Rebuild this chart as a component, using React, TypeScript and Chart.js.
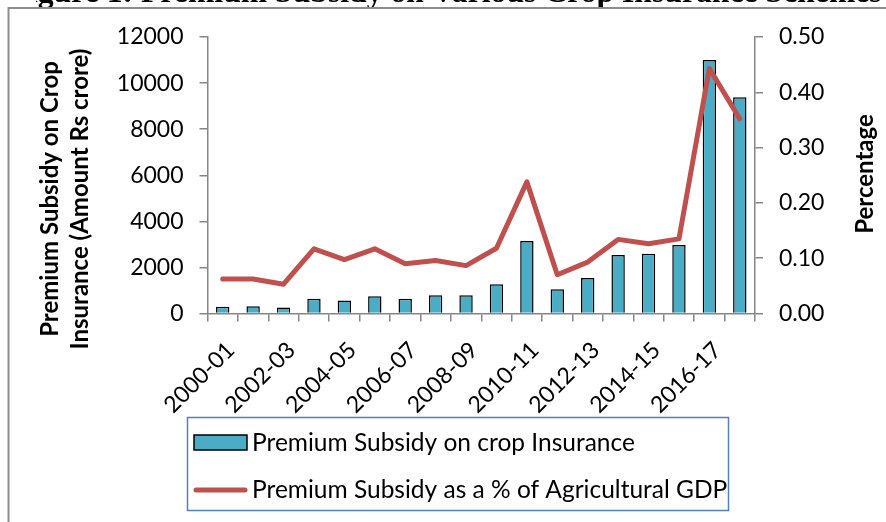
import React, { useEffect, useRef } from "react";
import { Chart, registerables } from "chart.js";

Chart.register(...registerables);

// ---- Data ----
const categories: string[] = [
  "2000-01", "2001-02", "2002-03", "2003-04", "2004-05", "2005-06",
  "2006-07", "2007-08", "2008-09", "2009-10", "2010-11", "2011-12",
  "2012-13", "2013-14", "2014-15", "2015-16", "2016-17", "2017-18",
];

// Premium Subsidy on crop Insurance (Rs crore)
const subsidyValues: number[] = [
  290, 316, 260, 635, 563, 750, 635, 793, 793, 1270, 3150, 1053,
  1542, 2538, 2598, 2971, 11000, 9380,
];

// Premium Subsidy as a % of Agricultural GDP
const gdpShareValues: number[] = [
  0.0625, 0.0625, 0.053, 0.117, 0.0975, 0.117, 0.09, 0.096, 0.0866,
  0.118, 0.238, 0.07, 0.093, 0.134, 0.126, 0.135, 0.443, 0.352,
];

const leftAxisTicks: number[] = [0, 2000, 4000, 6000, 8000, 10000, 12000];
const rightAxisTicks: number[] = [0, 0.1, 0.2, 0.3, 0.4, 0.5];

const barLabel = "Premium Subsidy on crop Insurance";
const lineLabel = "Premium Subsidy as a % of Agricultural GDP";
const leftTitleLines: string[] = ["Premium Subsidy on Crop", "Insurance (Amount Rs crore)"];
const rightTitle = "Percentage";
const figureTitle = "Figure 1: Premium Subsidy on Various Crop Insurance Schemes";

const BAR_COLOR = "#4BACC6";
const LINE_COLOR = "#C0504D";
const AXIS_COLOR = "#868686";
const FONT = "Lato";

const overlayPlugin = {
  id: "overlay",
  afterDraw(chart: any) {
    const ctx: CanvasRenderingContext2D = chart.ctx;
    ctx.save();

    // frame
    ctx.strokeStyle = "#8c8c8c";
    ctx.lineWidth = 2;
    ctx.beginPath();
    ctx.moveTo(8.5, 522);
    ctx.lineTo(8.5, 8);
    ctx.lineTo(886, 8);
    ctx.stroke();

    // clipped figure title (only lower part visible)
    ctx.save();
    ctx.beginPath();
    ctx.rect(36, 0, 850, 7);
    ctx.clip();
    ctx.fillStyle = "#000";
    ctx.font = `bold 31.7px "Liberation Serif"`;
    ctx.textAlign = "left";
    ctx.textBaseline = "alphabetic";
    ctx.fillText(figureTitle, 9.6, 2);
    ctx.restore();

    // left axis title
    ctx.fillStyle = "#000";
    ctx.font = `bold 24px ${FONT}`;
    ctx.textAlign = "center";
    ctx.textBaseline = "middle";
    ctx.save();
    ctx.translate(50, 199);
    ctx.rotate(-Math.PI / 2);
    ctx.fillText(leftTitleLines[0], 0, 0);
    ctx.fillText(leftTitleLines[1], 0, 30);
    ctx.restore();

    // right axis title
    ctx.save();
    ctx.translate(865, 174);
    ctx.rotate(-Math.PI / 2);
    ctx.fillText(rightTitle, 0, 0);
    ctx.restore();

    // legend
    ctx.strokeStyle = "#4F81BD";
    ctx.lineWidth = 1.5;
    ctx.strokeRect(187.5, 417.5, 541, 93);

    ctx.fillStyle = BAR_COLOR;
    ctx.fillRect(194, 435, 53, 15);
    ctx.strokeStyle = "#000";
    ctx.lineWidth = 1.5;
    ctx.strokeRect(194, 435, 53, 15);

    ctx.strokeStyle = LINE_COLOR;
    ctx.lineWidth = 5;
    ctx.lineCap = "round";
    ctx.beginPath();
    ctx.moveTo(196, 490);
    ctx.lineTo(245, 490);
    ctx.stroke();

    ctx.fillStyle = "#000";
    ctx.font = `24.5px ${FONT}`;
    ctx.textAlign = "left";
    ctx.textBaseline = "middle";
    ctx.fillText(barLabel, 252, 443);
    ctx.fillText(lineLabel, 252, 490);

    ctx.restore();
  },
};

export default function App() {
  const canvasRef = useRef<HTMLCanvasElement | null>(null);

  useEffect(() => {
    if (!canvasRef.current) return;
    const tickFont = { family: FONT, size: 23 };
    const chart = new Chart(canvasRef.current, {
      type: "bar",
      data: {
        labels: categories,
        datasets: [
          {
            type: "line",
            label: lineLabel,
            data: gdpShareValues,
            yAxisID: "y1",
            borderColor: LINE_COLOR,
            backgroundColor: LINE_COLOR,
            borderWidth: 5,
            pointRadius: 0,
            tension: 0,
            borderCapStyle: "round",
            borderJoinStyle: "round",
            order: 0,
          } as any,
          {
            type: "bar",
            label: barLabel,
            data: subsidyValues,
            yAxisID: "y",
            backgroundColor: BAR_COLOR,
            borderColor: "#000",
            borderWidth: 1.5,
            barPercentage: 0.44,
            categoryPercentage: 1,
            order: 1,
          } as any,
        ],
      },
      options: {
        responsive: false,
        animation: false,
        layout: { padding: { left: 107.5, right: 51, top: 37, bottom: 58.5 } },
        plugins: { legend: { display: false }, tooltip: { enabled: false }, title: { display: false } },
        scales: {
          x: {
            offset: true,
            grid: { offset: true, drawOnChartArea: false, drawTicks: true, tickLength: 8, color: AXIS_COLOR, lineWidth: 1.5 },
            border: { color: AXIS_COLOR, width: 1.5 },
            ticks: {
              autoSkip: false,
              maxRotation: 45,
              minRotation: 45,
              padding: 15,
              labelOffset: 8,
              color: "#000",
              font: tickFont,
              callback: (_v: any, i: number) => (i % 2 === 0 ? categories[i] : ""),
            },
            afterFit: (s: any) => { s.height = 150; },
          },
          y: {
            position: "left",
            min: leftAxisTicks[0],
            max: leftAxisTicks[leftAxisTicks.length - 1],
            afterBuildTicks: (s: any) => { s.ticks = leftAxisTicks.map((v) => ({ value: v })); },
            grid: { drawOnChartArea: false, drawTicks: true, tickLength: 8, color: AXIS_COLOR, lineWidth: 1.5 },
            border: { color: AXIS_COLOR, width: 1.5 },
            ticks: { padding: 16, color: "#000", font: tickFont, callback: (v: any) => String(v) },
            afterFit: (s: any) => { s.width = 100; },
          },
          y1: {
            position: "right",
            min: rightAxisTicks[0],
            max: rightAxisTicks[rightAxisTicks.length - 1],
            afterBuildTicks: (s: any) => { s.ticks = rightAxisTicks.map((v) => ({ value: v })); },
            grid: { drawOnChartArea: false, drawTicks: true, tickLength: 8, color: AXIS_COLOR, lineWidth: 1.5 },
            border: { color: AXIS_COLOR, width: 1.5 },
            ticks: { padding: 16, color: "#000", font: tickFont, callback: (v: any) => Number(v).toFixed(2) },
            afterFit: (s: any) => { s.width = 80; },
          },
        },
      },
      plugins: [overlayPlugin],
    });
    return () => chart.destroy();
  }, []);

  return (
    <div style={{ position: "absolute", left: 0, top: 0, width: 886, height: 522, background: "#fff", overflow: "hidden" }}>
      <canvas ref={canvasRef} width={886} height={522} style={{ display: "block" }} />
    </div>
  );
}
